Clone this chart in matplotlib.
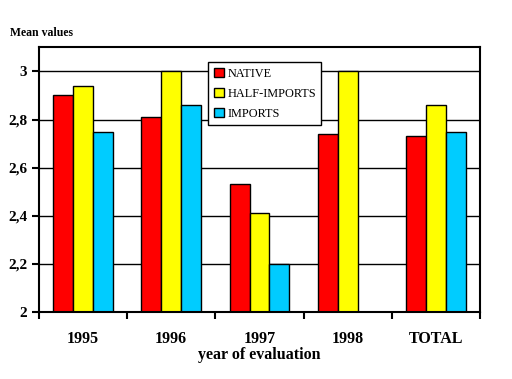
import numpy as np
import matplotlib.pyplot as plt

categories = ['1995', '1996', '1997', '1998', 'TOTAL']
native = [2.90, 2.81, 2.53, 2.74, 2.73]
half_imports = [2.94, 3.00, 2.41, 3.00, 2.86]
imports = [2.75, 2.86, 2.20, np.nan, 2.75]

plt.rcParams['font.family'] = ['Liberation Serif', 'DejaVu Serif']

fig = plt.figure(figsize=(5.12, 3.79), dpi=100)
ax = fig.add_axes([0.076, 0.177, 0.8615, 0.698])

x = np.arange(len(categories))
w = 0.225
ax.set_axisbelow(True)
ax.yaxis.grid(True, color='black', linewidth=1)
ax.bar(x - w, native, w, color='#ff0000', edgecolor='black', linewidth=1, label='NATIVE')
ax.bar(x, half_imports, w, color='#ffff00', edgecolor='black', linewidth=1, label='HALF-IMPORTS')
ax.bar(x + w, imports, w, color='#00ccff', edgecolor='black', linewidth=1, label='IMPORTS')

ax.set_ylim(2, 3.1)
ax.set_xlim(-0.5, len(categories) - 0.5)
ax.set_yticks([2, 2.2, 2.4, 2.6, 2.8, 3])
ax.set_yticklabels(['2', '2,2', '2,4', '2,6', '2,8', '3'], fontsize=11, fontweight='bold')
ax.set_xticks(np.arange(len(categories) + 1) - 0.5)
ax.set_xticklabels([])
ax.set_xticks(x, minor=True)
ax.set_xticklabels(categories, minor=True, fontsize=11.5, fontweight='bold')
ax.tick_params(axis='x', which='minor', length=0, pad=14)
ax.tick_params(axis='both', which='major', direction='out', length=5, width=1.5, color='black')
for s in ax.spines.values():
    s.set_linewidth(1.5)

ax.set_xlabel('year of evaluation', fontsize=11.5, fontweight='bold', labelpad=0)
fig.text(0.02, 0.905, 'Mean values', fontsize=8.5, fontweight='bold')

leg = ax.legend(loc='upper left', bbox_to_anchor=(0.384, 0.943), fancybox=False,
                framealpha=1, edgecolor='black', fontsize=8.8, handlelength=0.8,
                handleheight=0.8, handletextpad=0.3, borderpad=0.45, labelspacing=0.65,
                borderaxespad=0)
leg.get_frame().set_linewidth(1)

plt.savefig('out.png', dpi=100)
